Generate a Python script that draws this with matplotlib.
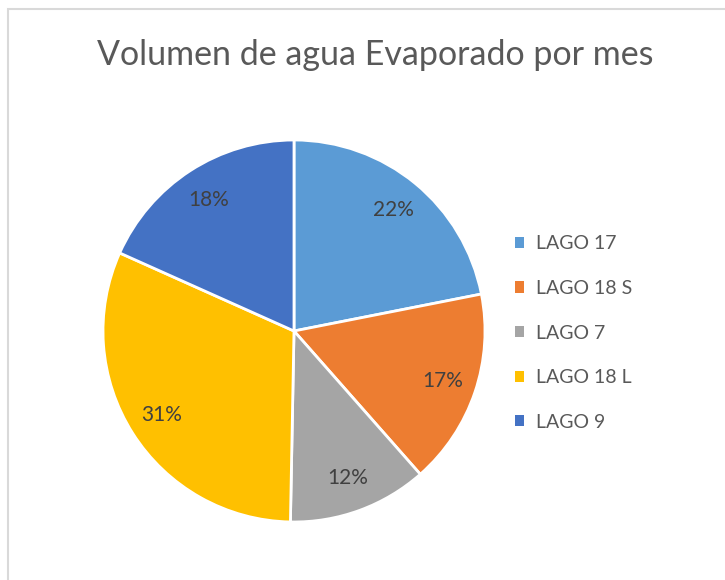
import matplotlib.pyplot as plt
from matplotlib.patches import Patch, Rectangle

# evaporated water volume share per lake (%)
lakes = ["LAGO 17", "LAGO 18 S", "LAGO 7", "LAGO 18 L", "LAGO 9"]
shares = [21.9, 16.6, 11.8, 31.4, 18.3]
colors = ["#5b9bd5", "#ed7d31", "#a5a5a5", "#ffc000", "#4472c4"]

plt.rcParams['font.family'] = ['Lato', 'DejaVu Sans']

fig = plt.figure(figsize=(7.25, 5.8), dpi=100)
W, H = 725, 580

# pie centre and radius in pixels
cx, cy, r = 294, 331, 191
ax = fig.add_axes([(cx - r) / W, (H - cy - r) / H, 2 * r / W, 2 * r / H])

wedges, texts, autotexts = ax.pie(
    shares, colors=colors, startangle=90, counterclock=False,
    autopct='%1.0f%%', pctdistance=0.82, radius=1,
    wedgeprops=dict(edgecolor='white', linewidth=2),
    textprops=dict(color='#404040', fontsize=15))
ax.set_xlim(-1, 1)
ax.set_ylim(-1, 1)
ax.set_aspect('equal')
ax.axis('off')

fig.text(375 / W, 1 - 55 / H, "Volumen de agua Evaporado por mes",
         ha='center', va='center', fontsize=24.5, color='#595959')

handles = [Patch(facecolor=c, edgecolor='none') for c in colors]
ax.legend(handles, lakes, loc='center left',
          bbox_to_anchor=(497 / W, 1 - 333 / H), bbox_transform=fig.transFigure,
          frameon=False, fontsize=14, labelcolor='#595959',
          handlelength=0.5, handleheight=0.5, handletextpad=0.6,
          labelspacing=1.42)

# chart area border
fig.patches.append(Rectangle((7.5 / W, -0.1), 1.2, 1 - 8.5 / H + 0.1,
                             transform=fig.transFigure, fill=False,
                             edgecolor='#d9d9d9', linewidth=1.5))

fig.savefig('out.png', dpi=100)
